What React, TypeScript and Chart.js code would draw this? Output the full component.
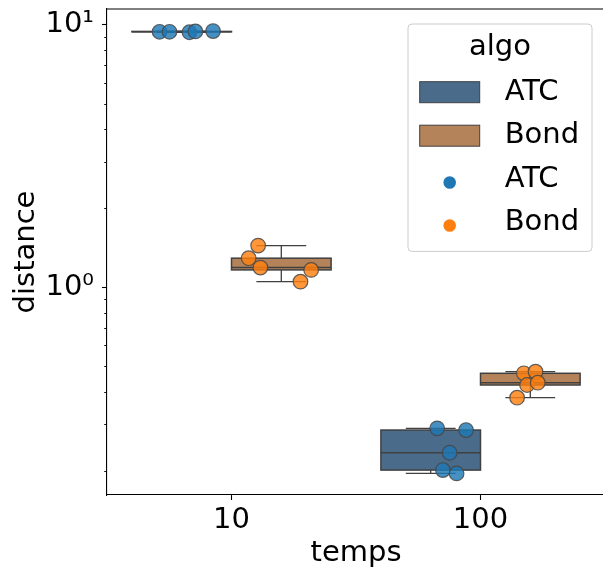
import React, { useEffect, useRef } from 'react';
import { Chart, registerables } from 'chart.js';

Chart.register(...registerables);

// ---- data ----
const categories = ['10', '100'];
const hueLevels = ['ATC', 'Bond'];

const atc10 = [9.40, 9.40, 9.36, 9.43, 9.46];
const atc10Jitter = [-0.289, -0.249, -0.169, -0.145, -0.074];
const atc100 = [0.290, 0.2857, 0.2341, 0.2011, 0.1953];
const atc100Jitter = [-0.174, -0.058, -0.124, -0.151, -0.096];

const bond10 = [1.441, 1.290, 1.188, 1.164, 1.050];
const bond10Jitter = [0.107, 0.069, 0.116, 0.320, 0.277];
const bond100 = [0.470, 0.4767, 0.4241, 0.4328, 0.3795];
const bond100Jitter = [0.174, 0.221, 0.187, 0.230, 0.147];

const yMin = 0.1616;
const yMax = 11.48;
const yMajorTicks = [1, 10];
const yTickLabels = ['10\u2070', '10\u00b9'];

// ---- styles ----
const FONT = "'DejaVu Sans', sans-serif";
const boxFill = ['#4a6b8a', '#b5835a'];
const pointFill = ['rgba(31,119,180,0.82)', 'rgba(255,127,14,0.82)'];
const solidColor = ['#1f77b4', '#ff7f0e'];
const lineColor = '#404040';

const seriesByHue = [
  [atc10, atc100],
  [bond10, bond100],
];
const jitterByHue = [
  [atc10Jitter, atc100Jitter],
  [bond10Jitter, bond100Jitter],
];

function quantile(sorted: number[], q: number) {
  const pos = (sorted.length - 1) * q;
  const lo = Math.floor(pos);
  const hi = Math.ceil(pos);
  return sorted[lo] + (sorted[hi] - sorted[lo]) * (pos - lo);
}

function boxStats(values: number[]) {
  const s = [...values].sort((a, b) => a - b);
  const q1 = quantile(s, 0.25);
  const med = quantile(s, 0.5);
  const q3 = quantile(s, 0.75);
  const iqr = q3 - q1;
  const lo = s.filter((v) => v >= q1 - 1.5 * iqr);
  const hi = s.filter((v) => v <= q3 + 1.5 * iqr);
  return { q1, med, q3, wlo: Math.min(...lo), whi: Math.max(...hi) };
}

const boxPlugin = {
  id: 'boxes',
  beforeDatasetsDraw(chart: any) {
    const { ctx, chartArea, scales } = chart;
    const xs = scales.x;
    const ys = scales.y;
    ctx.save();
    ctx.beginPath();
    ctx.rect(chartArea.left, chartArea.top, chartArea.right - chartArea.left, chartArea.bottom - chartArea.top);
    ctx.clip();
    seriesByHue.forEach((perCat, h) => {
      perCat.forEach((vals, c) => {
        const st = boxStats(vals);
        const center = c + (h === 0 ? -0.2 : 0.2);
        const xl = xs.getPixelForValue(center - 0.2);
        const xr = xs.getPixelForValue(center + 0.2);
        const xc = xs.getPixelForValue(center);
        const capL = xs.getPixelForValue(center - 0.1);
        const capR = xs.getPixelForValue(center + 0.1);
        const yq1 = ys.getPixelForValue(st.q1);
        const yq3 = ys.getPixelForValue(st.q3);
        const ymed = ys.getPixelForValue(st.med);
        const ylo = ys.getPixelForValue(st.wlo);
        const yhi = ys.getPixelForValue(st.whi);
        ctx.strokeStyle = lineColor;
        ctx.lineWidth = 1.3;
        ctx.beginPath();
        ctx.moveTo(xc, yq3);
        ctx.lineTo(xc, yhi);
        ctx.moveTo(capL, yhi);
        ctx.lineTo(capR, yhi);
        ctx.moveTo(xc, yq1);
        ctx.lineTo(xc, ylo);
        ctx.moveTo(capL, ylo);
        ctx.lineTo(capR, ylo);
        ctx.stroke();
        ctx.fillStyle = boxFill[h];
        ctx.fillRect(xl, yq3, xr - xl, yq1 - yq3);
        ctx.lineWidth = 1.5;
        ctx.strokeRect(xl, yq3, xr - xl, yq1 - yq3);
        ctx.beginPath();
        ctx.moveTo(xl, ymed);
        ctx.lineTo(xr, ymed);
        ctx.stroke();
      });
    });
    ctx.restore();
  },
};

const framePlugin = {
  id: 'frame',
  afterDraw(chart: any) {
    const { ctx, chartArea, scales } = chart;
    const ys = scales.y;
    ctx.save();
    ctx.strokeStyle = '#000';
    ctx.lineWidth = 1.1;
    ctx.beginPath();
    ctx.moveTo(chartArea.left, chartArea.top);
    ctx.lineTo(chartArea.right, chartArea.top);
    ctx.stroke();
    ctx.lineWidth = 0.9;
    ctx.beginPath();
    for (let e = -1; e <= 1; e++) {
      for (let m = 2; m <= 9; m++) {
        const v = m * Math.pow(10, e);
        if (v < yMin || v > yMax) continue;
        const py = Math.round(ys.getPixelForValue(v)) + 0.5;
        ctx.moveTo(chartArea.left - 2.8, py);
        ctx.lineTo(chartArea.left, py);
      }
    }
    ctx.stroke();
    ctx.restore();

    // legend
    const w = 184;
    const h = 227.4;
    const x0 = chartArea.right - 13 - w;
    const y0 = chartArea.top + 15;
    ctx.save();
    ctx.fillStyle = 'rgba(255,255,255,0.8)';
    ctx.strokeStyle = '#cccccc';
    ctx.lineWidth = 1;
    ctx.beginPath();
    (ctx as any).roundRect(x0, y0, w, h, 4);
    ctx.fill();
    ctx.stroke();
    ctx.fillStyle = '#000';
    ctx.font = `29px ${FONT}`;
    ctx.textBaseline = 'middle';
    ctx.textAlign = 'center';
    ctx.fillText('algo', x0 + w / 2, y0 + 23.4);
    ctx.textAlign = 'left';
    const rows = [68.2, 111.7, 155.2, 198.2];
    hueLevels.forEach((name, i) => {
      const cy = y0 + rows[i];
      ctx.fillStyle = boxFill[i];
      ctx.fillRect(x0 + 11.7, cy - 10.5, 60, 21);
      ctx.strokeStyle = lineColor;
      ctx.lineWidth = 1;
      ctx.strokeRect(x0 + 11.7, cy - 10.5, 60, 21);
      ctx.fillStyle = '#000';
      ctx.fillText(name, x0 + 96.7, cy);
    });
    hueLevels.forEach((name, i) => {
      const cy = y0 + rows[i + 2];
      ctx.fillStyle = solidColor[i];
      ctx.beginPath();
      ctx.arc(x0 + 41.7, cy + 3.3, 6.3, 0, Math.PI * 2);
      ctx.fill();
      ctx.fillStyle = '#000';
      ctx.fillText(name, x0 + 96.7, cy);
    });
    ctx.restore();
  },
};

export default function App() {
  const ref = useRef<HTMLCanvasElement>(null);
  useEffect(() => {
    const datasets = hueLevels.map((name, h) => ({
      label: name,
      data: seriesByHue[h].flatMap((vals, c) =>
        vals.map((v, i) => ({ x: c + jitterByHue[h][c][i], y: v }))
      ),
      backgroundColor: pointFill[h],
      borderColor: 'rgba(70,70,70,0.85)',
      borderWidth: 1.2,
      pointRadius: 7.3,
    }));
    const chart = new Chart(ref.current as HTMLCanvasElement, {
      type: 'scatter',
      data: { datasets },
      plugins: [boxPlugin, framePlugin],
      options: {
        responsive: false,
        animation: false,
        layout: { autoPadding: false, padding: { top: 9, right: 0, left: 0, bottom: 0 } },
        plugins: { legend: { display: false }, tooltip: { enabled: false } },
        scales: {
          x: {
            type: 'linear',
            min: -0.5,
            max: 1.5,
            afterBuildTicks: (scale: any) => {
              scale.ticks = categories.map((_, i) => ({ value: i }));
            },
            afterFit: (scale: any) => {
              scale.height = 76;
              scale.paddingLeft = 0;
              scale.paddingRight = 0;
            },
            ticks: {
              autoSkip: false,
              maxRotation: 0,
              padding: 3,
              color: '#000',
              font: { family: FONT, size: 29 },
              callback: (v: any) => categories[v] ?? '',
            },
            grid: { drawOnChartArea: false, drawTicks: true, tickLength: 5, tickWidth: 1.1, tickColor: '#000' },
            border: { display: true, color: '#000', width: 1.1 },
            title: {
              display: true,
              text: 'temps',
              color: '#000',
              font: { family: FONT, size: 29 },
              padding: { top: 0, bottom: 0 },
            },
          },
          y: {
            type: 'logarithmic',
            min: yMin,
            max: yMax,
            afterBuildTicks: (scale: any) => {
              scale.ticks = yMajorTicks.map((v) => ({ value: v, major: true }));
            },
            afterFit: (scale: any) => {
              scale.width = 107;
              scale.paddingTop = 0;
              scale.paddingBottom = 0;
            },
            ticks: {
              autoSkip: false,
              padding: 8,
              color: '#000',
              font: { family: FONT, size: 29 },
              callback: (v: any) => {
                const idx = yMajorTicks.indexOf(Number(v));
                return idx >= 0 ? yTickLabels[idx] : '';
              },
            },
            grid: { drawOnChartArea: false, drawTicks: true, tickLength: 5, tickWidth: 1.1, tickColor: '#000' },
            border: { display: true, color: '#000', width: 1.1 },
            title: {
              display: true,
              text: 'distance',
              color: '#000',
              font: { family: FONT, size: 29 },
              padding: { top: 9, bottom: 0 },
            },
          },
        },
      } as any,
    });
    return () => chart.destroy();
  }, []);
  return (
    <div style={{ position: 'absolute', left: 0, top: 0, width: 603, height: 571, overflow: 'hidden', background: '#fff' }}>
      <canvas ref={ref} width={605} height={571} style={{ display: 'block' }} />
    </div>
  );
}
